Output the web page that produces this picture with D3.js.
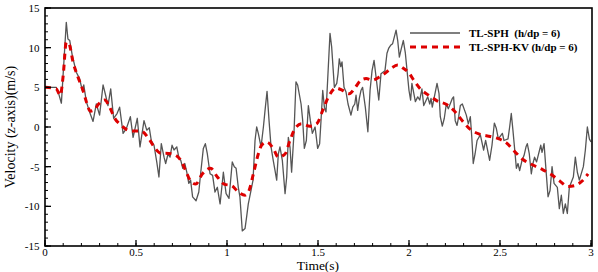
<!DOCTYPE html>
<html><head><meta charset="utf-8">
<script src="https://cdn.jsdelivr.net/npm/d3@7"></script>
<style>body{margin:0;background:#fff}svg{display:block}</style>
</head><body><svg id="c" width="598" height="272" font-family="'Liberation Serif', 'Times New Roman', 'DejaVu Serif', serif"></svg>
<script>
const sphT = [0,0.03,0.062,0.075,0.09,0.117,0.126,0.136,0.15,0.172,0.19,0.205,0.213,0.227,0.245,0.264,0.282,0.30,0.319,0.333,0.346,0.361,0.377,0.396,0.41,0.429,0.447,0.469,0.484,0.507,0.522,0.544,0.559,0.573,0.584,0.599,0.614,0.626,0.639,0.654,0.663,0.676,0.687,0.698,0.709,0.724,0.735,0.746,0.757,0.768,0.779,0.79,0.80,0.811,0.83,0.845,0.855,0.87,0.881,0.892,0.907,0.921,0.934,0.947,0.962,0.98,0.995,1.011,1.029,1.04,1.05,1.062,1.071,1.084,1.099,1.108,1.117,1.132,1.143,1.154,1.163,1.172,1.187,1.2,1.209,1.22,1.231,1.242,1.254,1.264,1.273,1.282,1.291,1.304,1.319,1.328,1.337,1.346,1.355,1.368,1.379,1.388,1.407,1.416,1.425,1.436,1.447,1.458,1.469,1.484,1.498,1.509,1.516,1.526,1.535,1.544,1.553,1.566,1.575,1.59,1.603,1.61,1.617,1.625,1.632,1.643,1.654,1.665,1.681,1.691,1.702,1.709,1.718,1.727,1.736,1.745,1.76,1.774,1.786,1.797,1.808,1.819,1.834,1.846,1.868,1.879,1.888,1.899,1.91,1.929,1.938,1.947,1.958,1.969,1.98,1.991,2.0,2.009,2.016,2.035,2.048,2.059,2.071,2.081,2.103,2.114,2.121,2.128,2.154,2.165,2.172,2.183,2.194,2.205,2.216,2.238,2.245,2.254,2.264,2.273,2.282,2.293,2.315,2.326,2.337,2.345,2.353,2.363,2.374,2.392,2.41,2.421,2.443,2.456,2.469,2.48,2.491,2.513,2.522,2.544,2.553,2.562,2.571,2.581,2.59,2.599,2.608,2.621,2.632,2.643,2.65,2.661,2.672,2.681,2.69,2.701,2.724,2.731,2.742,2.753,2.764,2.775,2.786,2.797,2.815,2.826,2.837,2.848,2.859,2.87,2.881,2.903,2.914,2.925,2.936,2.958,2.969,2.98,2.991,3.0];
const sphV = [5.0,5.0,5.0,4.2,3.0,13.2,11.1,10.9,9.0,6.9,6.1,4.6,5.3,3.2,1.9,0.7,2.9,1.5,5.3,4.0,2.7,4.8,1.1,1.7,2.5,-0.8,-0.2,1.3,-1.3,1.1,-2.5,0.8,-0.4,-0.1,-1.7,-2.3,-4.4,-6.3,-2.1,-3.8,-4.6,-3.4,-3.8,-2.3,-2.9,-2.5,-3.8,-4.2,-5.2,-4.6,-5.7,-7.1,-6.7,-8.8,-9.3,-8.2,-5.9,-2.7,-2.1,-3.4,-5.9,-6.1,-8.2,-7.6,-9.7,-5.7,-8.4,-9.0,-4.4,-5.0,-5.2,-7.6,-8.8,-13.1,-12.8,-11.3,-9.7,-8.0,-6.7,-1.7,0,-0.8,-2.5,0,2.1,4.5,0.8,-2.5,-4.2,-5.5,-6.7,-3.4,-2.5,-4.2,-8.4,-6.3,-1.3,-2.5,-5.7,-0.8,5.7,5.3,2.9,0.8,-2.7,-1.7,2.7,0.8,-0.8,0,-2.7,-2.1,0.6,4.6,2.5,1.9,5.9,11.8,10.1,5.0,5.5,6.7,8.6,7.6,8.2,5.0,4.4,2.9,1.5,2.5,2.9,4.0,2.1,3.6,4.6,5.0,2.5,-0.6,4.6,7.1,8.4,6.3,3.4,6.7,7.1,9.3,9.9,10.3,10.5,12.2,10.9,8.8,9.9,10.9,9.3,6.7,4.6,3.4,5.5,3.2,3.8,3.4,4.8,2.7,3.8,2.9,3.6,2.5,5.5,4.2,1.3,0.1,1.1,2.9,2.3,3.6,3.8,0.8,0.2,1.3,2.7,2.9,1.5,0.4,1.3,-1.3,-4.6,-3.4,-1.7,-1.0,-2.9,-1.7,-4.2,-2.3,0.5,-0.2,-1.5,-0.8,-1.7,-1.5,0,1.7,-0.4,-2.9,-5.2,-4.6,-5.5,-4.2,-3.6,-2.5,-2.1,-3.4,-5.9,-4.6,-3.8,-4.4,-2.3,-3.2,-2.1,-5.5,-8.8,-8.0,-5.0,-7.1,-7.6,-10.3,-8.6,-10.9,-9.7,-10.9,-7.6,-6.3,-3.8,-5.7,-6.7,-5.0,-2.9,0,-1.5,-1.9];
const kvT = [0,0.062,0.084,0.10,0.117,0.132,0.154,0.181,0.209,0.227,0.249,0.273,0.291,0.328,0.355,0.383,0.42,0.456,0.489,0.526,0.571,0.599,0.636,0.663,0.70,0.746,0.773,0.797,0.828,0.865,0.91,0.947,0.984,1.026,1.062,1.099,1.121,1.145,1.172,1.19,1.218,1.254,1.282,1.319,1.346,1.374,1.41,1.456,1.493,1.526,1.562,1.599,1.636,1.672,1.705,1.736,1.764,1.80,1.837,1.864,1.901,1.938,1.969,2.0,2.026,2.062,2.108,2.154,2.209,2.254,2.30,2.337,2.388,2.447,2.495,2.535,2.581,2.626,2.672,2.736,2.782,2.828,2.874,2.91,2.947,2.984];
const kvV = [5.0,4.8,4.0,6.5,10.7,10.5,8.2,6.3,4.6,3.2,2.0,2.2,2.8,3.4,2.5,1.1,0.2,-0.4,-0.5,-0.5,-1.5,-2.5,-3.3,-3.3,-3.4,-4.2,-5.5,-6.7,-7.2,-5.9,-5.2,-6.3,-7.2,-7.4,-8.2,-8.6,-8.0,-5.9,-3.4,-2.3,-1.9,-2.7,-3.8,-3.4,-1.7,-0.2,0.4,0.1,0.4,2.1,4.0,4.9,4.6,4.2,5.0,5.9,6.1,5.9,6.3,6.7,7.4,7.8,7.4,6.8,5.9,4.8,4.0,3.3,2.8,1.9,0.6,-0.3,-0.9,-1.2,-1.5,-2.0,-3.1,-4.1,-4.7,-5.4,-6.0,-6.8,-7.5,-7.4,-6.9,-5.9];
const xTicks = [0,0.5,1,1.5,2,2.5,3];
const yTicks = [-15,-10,-5,0,5,10,15];
const seriesNames = ["TL-SPH\u00a0\u00a0(h/dp = 6)", "TL-SPH-KV (h/dp = 6)"];
const xTitle = "Time(s)", yTitle = "Velocity (z-axis)(m/s)";

const svg = d3.select("#c");
const L=45, R=591, T=8, B=246;
const x = d3.scaleLinear().domain([0,3]).range([L,R]);
const y = d3.scaleLinear().domain([-15,15]).range([B,T]);

const line = d3.line().x(d=>x(d[0])).y(d=>y(d[1]));
const sph = sphT.map((t,i)=>[t,sphV[i]]);
const kv = kvT.map((t,i)=>[t,kvV[i]]);

svg.append("path").datum(sph).attr("d",line).attr("fill","none").attr("stroke","#555").attr("stroke-width",1.3).attr("stroke-linejoin","round");
svg.append("path").datum(kv).attr("d",line.curve(d3.curveMonotoneX)).attr("fill","none").attr("stroke","#dd0000").attr("stroke-width",3).attr("stroke-dasharray","6,5");

const g = svg.append("g");
d3.range(0,3.0001,0.1).forEach(v=>{
  g.append("line").attr("x1",x(v)).attr("x2",x(v)).attr("y1",B).attr("y2",B-3).attr("stroke","#000").attr("stroke-width",1);
});
d3.range(-15,15.0001,1).forEach(v=>{
  g.append("line").attr("x1",L).attr("x2",L+3).attr("y1",y(v)).attr("y2",y(v)).attr("stroke","#000").attr("stroke-width",1);
});
xTicks.forEach(v=>{
  g.append("line").attr("x1",x(v)).attr("x2",x(v)).attr("y1",B).attr("y2",B-6).attr("stroke","#000").attr("stroke-width",1.3);
  g.append("text").attr("x",x(v)).attr("y",255.5).attr("text-anchor","middle").attr("font-size",11).text(v);
});
yTicks.forEach(v=>{
  g.append("line").attr("x1",L).attr("x2",L+6).attr("y1",y(v)).attr("y2",y(v)).attr("stroke","#000").attr("stroke-width",1.3);
  g.append("text").attr("x",39.5).attr("y",y(v)+4).attr("text-anchor","end").attr("font-size",11).text(v);
});
svg.append("rect").attr("x",L).attr("y",T).attr("width",592-L).attr("height",B-T).attr("fill","none").attr("stroke","#000").attr("stroke-width",1.6);

svg.append("text").attr("x",318).attr("y",269.5).attr("text-anchor","middle").attr("font-size",13.5).text(xTitle);
svg.append("text").attr("transform","translate(15,127) rotate(-90)").attr("text-anchor","middle").attr("font-size",14).text(yTitle);

svg.append("line").attr("x1",410).attr("x2",460).attr("y1",33).attr("y2",33).attr("stroke","#555").attr("stroke-width",1.3);
svg.append("line").attr("x1",410).attr("x2",461).attr("y1",47).attr("y2",47).attr("stroke","#dd0000").attr("stroke-width",3).attr("stroke-dasharray","6,5");
svg.append("text").attr("x",469).attr("y",37).attr("font-size",11).attr("font-weight","bold").text(seriesNames[0]);
svg.append("text").attr("x",469).attr("y",51).attr("font-size",11).attr("font-weight","bold").text(seriesNames[1]);
</script></body></html>
